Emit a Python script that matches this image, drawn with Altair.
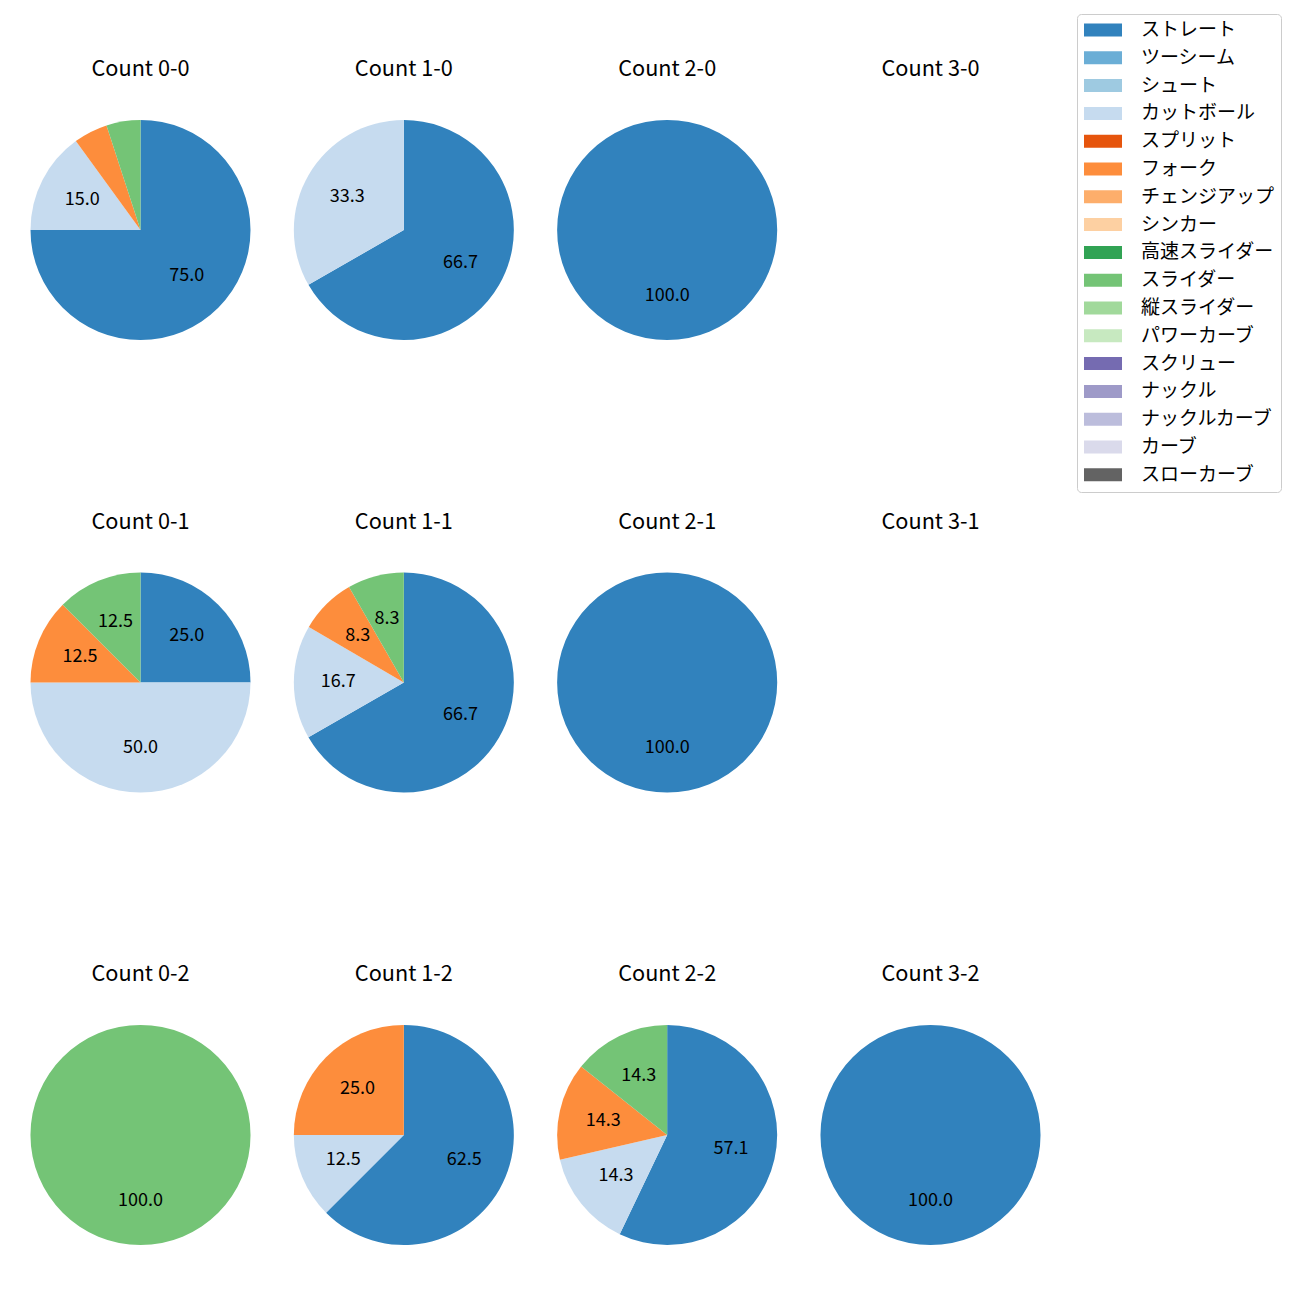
import altair as alt
import pandas as pd

FONT = "Noto Sans CJK JP"

pitch_types = ["ストレート", "ツーシーム", "シュート", "カットボール", "スプリット", "フォーク",
               "チェンジアップ", "シンカー", "高速スライダー", "スライダー", "縦スライダー",
               "パワーカーブ", "スクリュー", "ナックル", "ナックルカーブ", "カーブ", "スローカーブ"]
pitch_colors = ["#3182bd", "#6baed6", "#9ecae1", "#c6dbef", "#e6550d", "#fd8d3c",
                "#fdae6b", "#fdd0a2", "#31a354", "#74c476", "#a1d99b", "#c7e9c0",
                "#756bb1", "#9e9ac8", "#bcbddc", "#dadaeb", "#636363"]

panel_titles = ["Count 0-0", "Count 1-0", "Count 2-0", "Count 3-0",
                "Count 0-1", "Count 1-1", "Count 2-1", "Count 3-1",
                "Count 0-2", "Count 1-2", "Count 2-2", "Count 3-2"]
panel_cols = [0, 1, 2, 3, 0, 1, 2, 3, 0, 1, 2, 3]
panel_rows = [0, 0, 0, 0, 1, 1, 1, 1, 2, 2, 2, 2]

c00_types = ["ストレート", "カットボール", "フォーク", "スライダー"]
c00_pcts = [75.0, 15.0, 5.0, 5.0]
c10_types = ["ストレート", "カットボール"]
c10_pcts = [66.7, 33.3]
c20_types = ["ストレート"]
c20_pcts = [100.0]
c30_types = []
c30_pcts = []
c01_types = ["ストレート", "カットボール", "フォーク", "スライダー"]
c01_pcts = [25.0, 50.0, 12.5, 12.5]
c11_types = ["ストレート", "カットボール", "フォーク", "スライダー"]
c11_pcts = [66.7, 16.7, 8.3, 8.3]
c21_types = ["ストレート"]
c21_pcts = [100.0]
c31_types = []
c31_pcts = []
c02_types = ["スライダー"]
c02_pcts = [100.0]
c12_types = ["ストレート", "カットボール", "フォーク"]
c12_pcts = [62.5, 12.5, 25.0]
c22_types = ["ストレート", "カットボール", "フォーク", "スライダー"]
c22_pcts = [57.1, 14.3, 14.3, 14.3]
c32_types = ["ストレート"]
c32_pcts = [100.0]

panel_types = [c00_types, c10_types, c20_types, c30_types,
               c01_types, c11_types, c21_types, c31_types,
               c02_types, c12_types, c22_types, c32_types]
panel_pcts = [c00_pcts, c10_pcts, c20_pcts, c30_pcts,
              c01_pcts, c11_pcts, c21_pcts, c31_pcts,
              c02_pcts, c12_pcts, c22_pcts, c32_pcts]

rows = []
for title, col, row, types, pcts in zip(panel_titles, panel_cols, panel_rows, panel_types, panel_pcts):
    for t, p in zip(types, pcts):
        rows.append({"panel": title, "col": col, "row": row, "type": t,
                     "pct": p, "order": pitch_types.index(t)})
df = pd.DataFrame(rows)
title_df = pd.DataFrame({"title": panel_titles, "col": panel_cols, "row": panel_rows})

xenc = alt.X("col:Q", scale=alt.Scale(domain=[0, 3], range=[132.5, 922.5]), axis=None)
yenc = alt.Y("row:Q", scale=alt.Scale(domain=[0, 2], range=[222, 1127]), axis=None)
tscale = alt.Scale(domain=[0, 1], range=[0, 6.283185307179586])

base = alt.Chart(df).transform_stack(
    stack="pct", groupby=["panel"], as_=["start", "end"],
    offset="normalize", sort=[alt.SortField("order", order="ascending")]
).transform_calculate(
    mid="(datum.start + datum.end) / 2",
    label="datum.pct >= 7 ? format(datum.pct, '.1f') : ''"
)

arcs = base.mark_arc(outerRadius=110, innerRadius=0).encode(
    x=xenc, y=yenc,
    theta=alt.Theta("start:Q", scale=tscale, stack=False),
    theta2=alt.Theta2("end:Q"),
    color=alt.Color("type:N", scale=alt.Scale(domain=pitch_types, range=pitch_colors),
                    legend=alt.Legend(title=None, orient="none", legendX=1069, legendY=6,
                                      symbolType="M-0.947,-0.684H3.053V0.684H-0.947Z",
                                      symbolSize=361, symbolStrokeWidth=0, symbolOpacity=1,
                                      labelFontSize=19, labelFont=FONT, labelColor="black",
                                      labelOffset=38.5, rowPadding=7.8, padding=6.5,
                                      strokeColor="#cccccc", fillColor="white",
                                      cornerRadius=4, labelLimit=400)),
)

labels = base.mark_text(radius=65.5, fontSize=18, font=FONT, color="black").encode(
    x=xenc, y=yenc,
    theta=alt.Theta("mid:Q", scale=tscale, stack=False),
    text="label:N",
)

titles = alt.Chart(title_df).mark_text(dy=-161, fontSize=21.7, font=FONT, color="black").encode(
    x=xenc, y=yenc, text="title:N"
)

chart = alt.layer(arcs, labels, titles).properties(
    width=1284, height=1284, autosize="none", padding=0
).configure_view(strokeWidth=0)

chart.save("out.html", embed_options={"renderer": "svg", "actions": False})
